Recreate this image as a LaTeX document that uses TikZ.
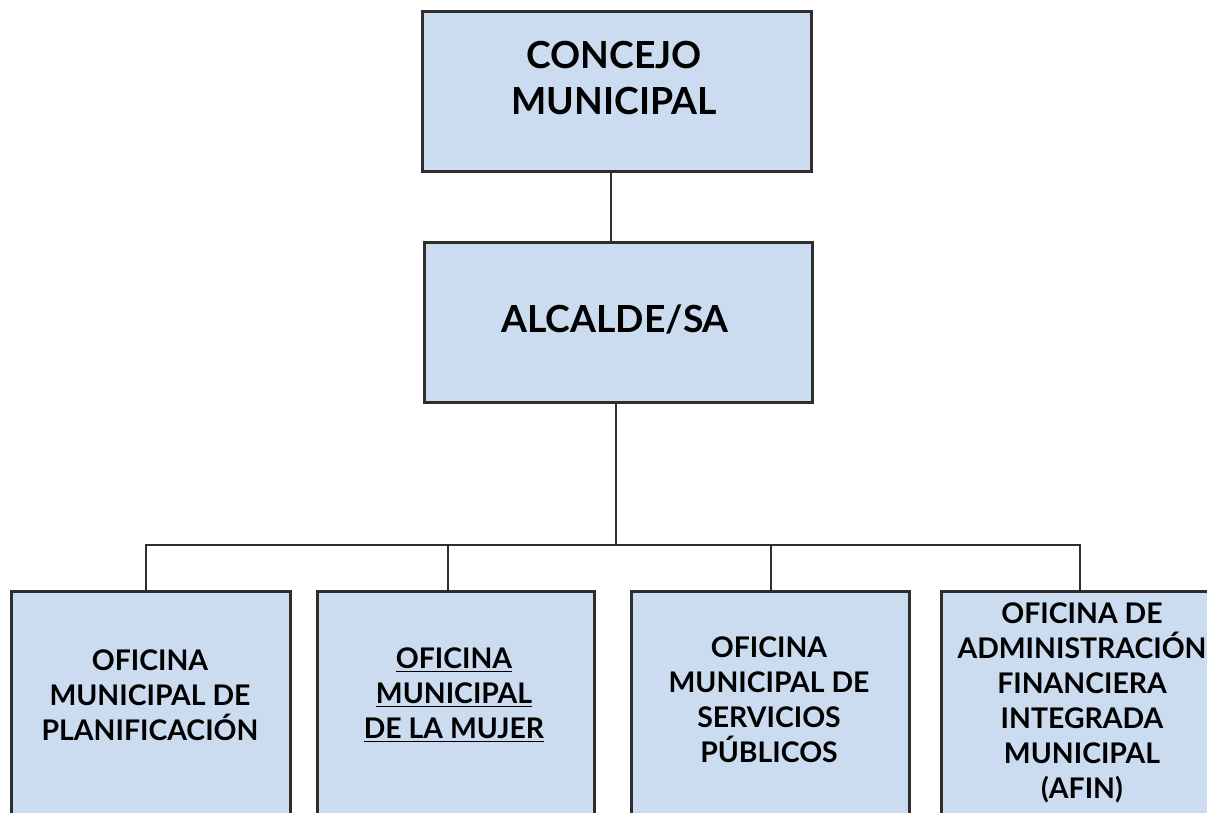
\documentclass[tikz,border=0pt]{standalone}
\usepackage{fontspec}
\setmainfont{Lato}
\definecolor{boxfill}{HTML}{CCDCF0}
\definecolor{edge}{HTML}{2E2E2E}
\begin{document}
\begin{tikzpicture}[x=0.75pt,y=-0.75pt,
  orgbox/.style={draw=edge,line width=2pt,fill=boxfill,rectangle,inner sep=0pt,anchor=north west},
  toptext/.style={align=center,font=\bfseries\fontsize{28}{34}\selectfont,inner sep=0pt},
  subtext/.style={align=center,font=\bfseries\fontsize{21.3}{26.25}\selectfont,inner sep=0pt},
  link/.style={draw=edge,line width=2pt}]
\useasboundingbox (0,0) rectangle (1207,813);
\clip (0,0) rectangle (1207,813);
% boxes
\node[orgbox,minimum width=389*0.75pt,minimum height=160*0.75pt] (cm) at (421,10) {};
\node[orgbox,minimum width=388*0.75pt,minimum height=160*0.75pt] (al) at (423,241) {};
\node[orgbox,minimum width=279*0.75pt,minimum height=300*0.75pt] (b1) at (10,590) {};
\node[orgbox,minimum width=277*0.75pt,minimum height=300*0.75pt] (b2) at (316,590) {};
\node[orgbox,minimum width=278*0.75pt,minimum height=300*0.75pt] (b3) at (630,590) {};
\node[orgbox,minimum width=284*0.75pt,minimum height=300*0.75pt] (b4) at (940,590) {};
% texts
\node[toptext] (tcm) at (614,78) {CONCEJO\\MUNICIPAL};
\node[toptext] (tal) at (615,320) {ALCALDE/SA};
\node[subtext] (t1) at (150,695) {OFICINA\\MUNICIPAL DE\\PLANIFICACIÓN};
\node[subtext] (t2) at (454,695) {\underline{OFICINA}\\\underline{MUNICIPAL}\\\underline{DE LA MUJER}};
\node[subtext] (t3) at (769,700) {OFICINA\\MUNICIPAL DE\\SERVICIOS\\PÚBLICOS};
\node[subtext] (t4) at (1082,703) {OFICINA DE\\ADMINISTRACIÓN\\FINANCIERA\\INTEGRADA\\MUNICIPAL\\(AFIN)};
% connectors
\coordinate (bus) at (616,545);
\draw[link] (cm.south -| 611,0) -- (al.north -| 611,0);
\draw[link] (al.south -| bus) -- (bus);
\draw[link] (b1.north -| 146,0) |- (bus) -| (b4.north -| 1080,0);
\draw[link] (b2.north -| 448,0) -- (448,545);
\draw[link] (b3.north -| 771,0) -- (771,545);
\end{tikzpicture}
\end{document}
